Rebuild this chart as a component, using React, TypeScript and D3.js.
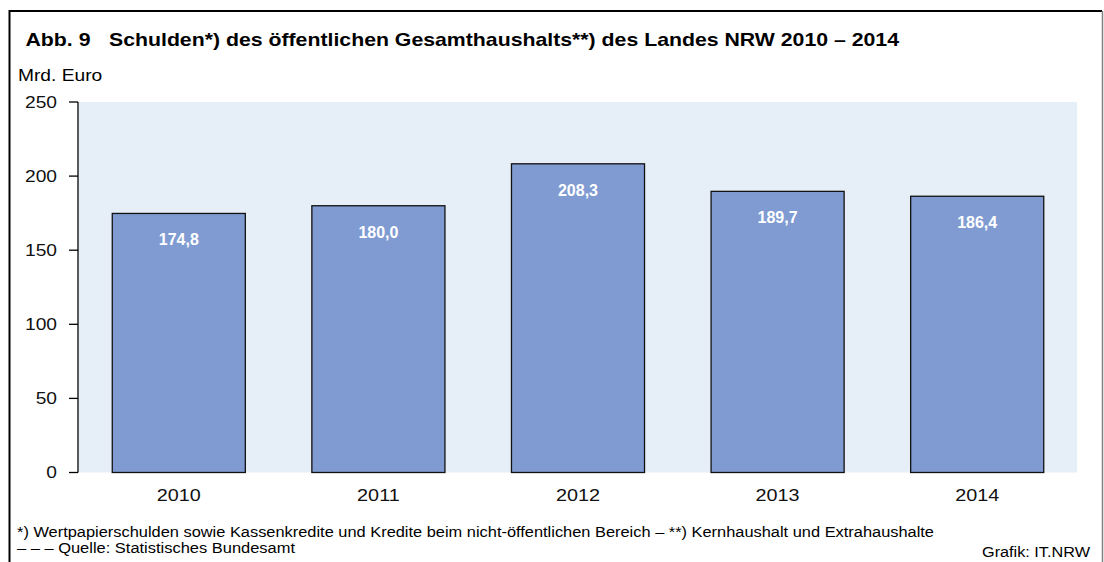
import React from "react"
import * as d3 from "d3"

const years = ["2010", "2011", "2012", "2013", "2014"]
const debts = [174.8, 180.0, 208.3, 189.7, 186.4]
const yTicks = [0, 50, 100, 150, 200, 250]

const figNo = "Abb. 9"
const title = "Schulden*) des öffentlichen Gesamthaushalts**) des Landes NRW 2010 – 2014"
const unit = "Mrd. Euro"
const note1 =
  "*) Wertpapierschulden sowie Kassenkredite und Kredite beim nicht-öffentlichen Bereich – **) Kernhaushalt und Extrahaushalte"
const note2 = "– – – Quelle: Statistisches Bundesamt"
const credit = "Grafik: IT.NRW"

const W = 1104
const H = 562
const margin = { top: 102, right: 27, bottom: 90, left: 79 }
const font = "'Liberation Sans', Arial, sans-serif"
const sx = 1.2

const fmt = (v: number) => v.toFixed(1).replace(".", ",")

export default function App() {
  const x = d3
    .scaleBand()
    .domain(years)
    .range([margin.left, W - margin.right])
    .paddingInner(1 / 3)
    .paddingOuter(1 / 6)
  const y = d3
    .scaleLinear()
    .domain([0, 250])
    .range([H - margin.bottom + 0.5, margin.top])

  const plotW = W - margin.right - margin.left
  const y0 = y(0)

  return (
    <svg
      width={W}
      height={H}
      style={{ position: "absolute", left: 0, top: 0, background: "#fff" }}
      fontFamily={font}
    >
      {/* frame */}
      <path d={`M9.5,${H + 5} V11 H1102`} fill="none" stroke="#000" strokeWidth={2} />
      <line x1={1102.5} x2={1102.5} y1={11} y2={H} stroke="#808080" strokeWidth={1.5} />

      <text x={25.5} y={46} fontSize={18.5} fontWeight="bold" textLength={65} lengthAdjust="spacingAndGlyphs">
        {figNo}
      </text>
      <text x={109} y={46} fontSize={18.5} fontWeight="bold" textLength={790} lengthAdjust="spacingAndGlyphs">
        {title}
      </text>
      <text transform={`translate(18,81) scale(${sx},1)`} fontSize={16}>
        {unit}
      </text>

      {/* plot background */}
      <rect x={margin.left} y={margin.top} width={plotW} height={y0 - margin.top} fill="#e6eef8" />

      {/* bars */}
      {debts.map((v, i) => {
        const bx = x(years[i]) as number
        const bw = x.bandwidth()
        return (
          <g key={years[i]}>
            <rect
              x={bx}
              y={y(v)}
              width={bw}
              height={y0 - y(v)}
              fill="#7f9bd2"
              stroke="#111"
              strokeWidth={1.3}
            />
            <text
              x={bx + bw / 2}
              y={y(v) + 32}
              textAnchor="middle"
              fontSize={16}
              fontWeight="bold"
              fill="#fff"
            >
              {fmt(v)}
            </text>
            <text
              transform={`translate(${bx + bw / 2},501) scale(${sx},1)`}
              textAnchor="middle"
              fontSize={16.5}
              fill="#111"
            >
              {years[i]}
            </text>
          </g>
        )
      })}

      {/* y axis */}
      <line x1={78} x2={78} y1={margin.top} y2={y0} stroke="#000" strokeWidth={1.3} />
      {yTicks.map(t => (
        <g key={t}>
          <line x1={69} x2={78} y1={y(t)} y2={y(t)} stroke="#000" strokeWidth={1.3} />
          <text
            transform={`translate(57,${y(t) + 5.5}) scale(${sx},1)`}
            textAnchor="end"
            fontSize={16}
            fill="#111"
          >
            {t}
          </text>
        </g>
      ))}

      {/* notes */}
      <text x={17} y={537} fontSize={14} textLength={917} lengthAdjust="spacingAndGlyphs">
        {note1}
      </text>
      <text x={17} y={552.5} fontSize={14} textLength={278} lengthAdjust="spacingAndGlyphs">
        {note2}
      </text>
      <text x={982} y={557} fontSize={14} textLength={108} lengthAdjust="spacingAndGlyphs">
        {credit}
      </text>
    </svg>
  )
}
